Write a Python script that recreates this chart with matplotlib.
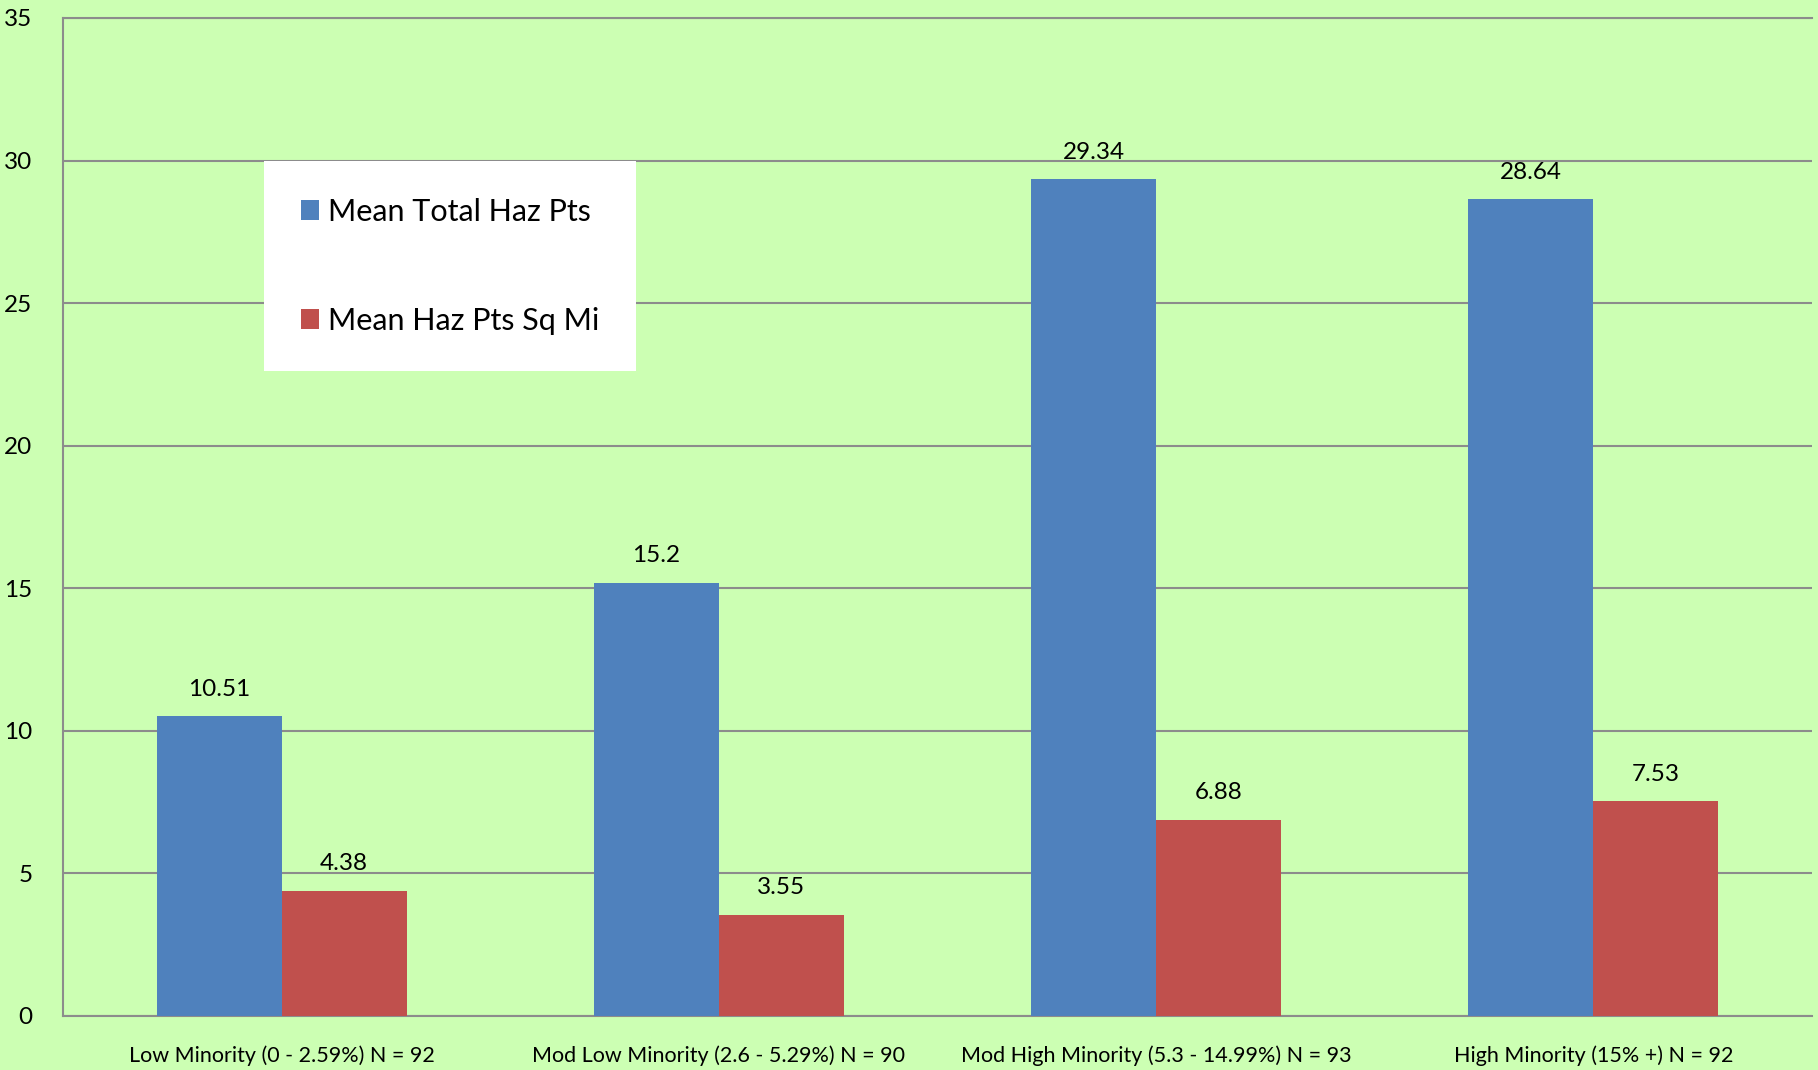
import matplotlib
matplotlib.use("Agg")
import matplotlib.pyplot as plt
import numpy as np

categories = ["Low Minority (0 - 2.59%) N = 92",
              "Mod Low Minority (2.6 - 5.29%) N = 90",
              "Mod High Minority (5.3 - 14.99%) N = 93",
              "High Minority (15% +) N = 92"]
series_names = ["Mean Total Haz Pts", "Mean Haz Pts Sq Mi"]
mean_total = [10.51, 15.2, 29.34, 28.64]
mean_sqmi = [4.38, 3.55, 6.88, 7.53]
yticks = [0, 5, 10, 15, 20, 25, 30, 35]

plt.rcParams['font.family'] = ['Lato', 'DejaVu Sans']

bg = '#CCFFB3'
grid_c = '#8C8C8C'
colors = ['#4F81BD', '#C0504D']

fig = plt.figure(figsize=(18.18, 10.70), dpi=100, facecolor=bg)
ax = fig.add_axes([63/1818, 1-1016/1070, (1812-63)/1818, (1016-18)/1070])
ax.set_facecolor(bg)

x = np.arange(len(categories))
w = 0.286
b1 = ax.bar(x - w/2, mean_total, w, color=colors[0], label=series_names[0], zorder=3)
b2 = ax.bar(x + w/2, mean_sqmi, w, color=colors[1], label=series_names[1], zorder=3)
for bars in (b1, b2):
    ax.bar_label(bars, fmt='%g', padding=12, fontsize=17.5, color='black')

ax.set_xlim(-0.5, len(categories) - 0.5)
ax.set_ylim(0, 35)
ax.set_yticks(yticks)
ax.set_xticks(x)
ax.set_xticklabels(categories, fontsize=15.5)
ax.tick_params(axis='both', length=0)
ax.tick_params(axis='y', labelsize=17.5, pad=22)
ax.tick_params(axis='x', pad=21)
ax.yaxis.grid(True, color=grid_c, linewidth=1.5)
ax.set_axisbelow(True)
ax.spines['right'].set_visible(False)
for s in ('left', 'bottom', 'top'):
    ax.spines[s].set_color(grid_c)
    ax.spines[s].set_linewidth(1.5)

leg = ax.legend(loc='upper left', bbox_to_anchor=(264/1818, 1-161/1070),
                bbox_transform=fig.transFigure, fontsize=22,
                frameon=True, facecolor='white', edgecolor='none', framealpha=1,
                fancybox=False, handlelength=0.6, handleheight=0.6,
                handletextpad=0.3, labelspacing=2.65, borderpad=1.2,
                borderaxespad=0)
leg.set_zorder(5)

fig.savefig('out.png', dpi=100, facecolor=bg)
